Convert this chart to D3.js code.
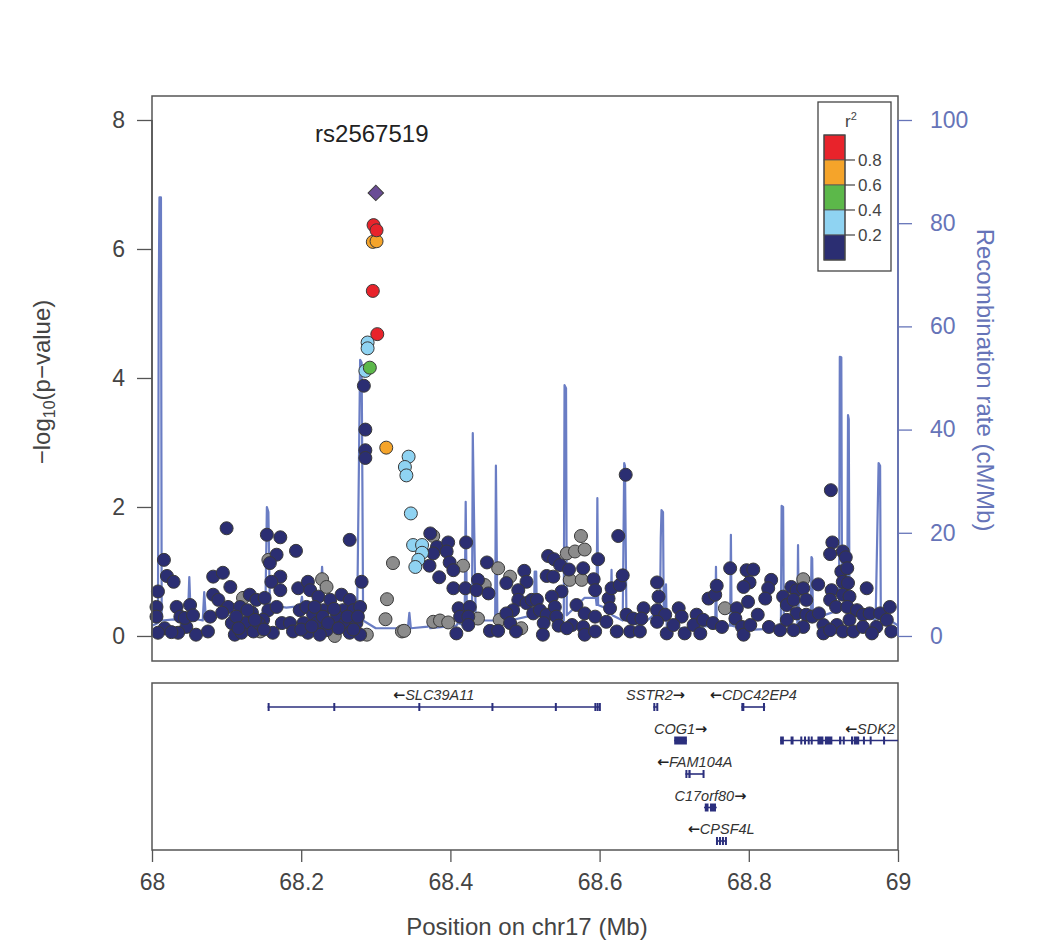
<!DOCTYPE html>
<html><head><meta charset="utf-8">
<script src="https://cdn.jsdelivr.net/npm/d3@7/dist/d3.min.js"></script>
<style>
body{margin:0;background:#fff;}
text{font-family:"Liberation Sans",Arial,Helvetica,sans-serif;}
</style></head>
<body><svg id="chart" width="1050" height="946"></svg>
<script>
// ---------------- DATA ----------------
const xTicks = [68, 68.2, 68.4, 68.6, 68.8, 69];
const yTicks = [0, 2, 4, 6, 8];
const rateTicks = [0, 20, 40, 60, 80, 100];
const r2Breaks = [0.2, 0.4, 0.6, 0.8];
const r2Colors = ["#2b2e72", "#8fd3f2", "#5cb84a", "#f5a42a", "#e8232b"];
const leadSnp = {name: "rs2567519", pos: 68.300, logp: 6.87};

// SNPs with r2 missing (gray)
const snpsNoLD = [[68.122,0.59],[68.156,1.18],[68.228,0.88],[68.234,0.76],[68.245,0.0],[68.145,0.07],[68.288,0.02],
 [68.323,1.13],[68.315,0.57],[68.313,0.26],[68.335,0.07],[68.338,0.08],[68.377,1.55],[68.417,1.09],[68.446,0.79],
 [68.464,1.05],[68.437,0.27],[68.377,0.22],[68.386,0.24],[68.397,0.21],[68.466,0.25],[68.480,0.92],[68.495,0.12],
 [68.556,1.28],[68.567,1.31],[68.575,1.55],[68.580,1.34],[68.560,0.87],[68.576,0.87],[68.768,0.43],[68.873,0.88]];
// r2 < 0.2 (navy)
const snpsR2_0 = [
 [68.100,1.67],[68.016,1.18],[68.020,0.93],[68.029,0.84],[68.008,0.69],[68.006,0.45],[68.006,0.30],[68.017,0.12],
 [68.008,0.05],[68.033,0.45],[68.038,0.30],[68.051,0.48],[68.046,0.14],[68.035,0.05],[68.059,0.02],[68.075,0.07],
 [68.078,0.30],[68.082,0.92],[68.095,0.98],[68.082,0.64],[68.089,0.56],[68.105,0.76],[68.102,0.45],[68.094,0.36],
 [68.107,0.20],[68.111,0.02],[68.118,0.45],[68.131,0.64],[68.140,0.56],[68.134,0.36],[68.125,0.20],[68.120,0.05],
 [68.136,0.07],[68.151,0.59],[68.156,0.40],[68.149,0.25],[68.154,1.57],[68.172,1.53],[68.167,1.26],[68.158,1.13],
 [68.172,0.92],[68.160,0.84],[68.172,0.71],[68.167,0.45],[68.174,0.20],[68.162,0.05],[68.193,1.32],[68.185,0.20],
 [68.189,0.07],[68.196,0.74],[68.209,0.84],[68.212,0.71],[68.223,0.61],[68.198,0.40],[68.207,0.45],[68.216,0.33],
 [68.203,0.20],[68.221,0.20],[68.230,0.40],[68.239,0.56],[68.234,0.09],[68.209,0.05],[68.225,0.02],[68.254,0.64],
 [68.265,0.56],[68.265,1.49],[68.256,0.40],[68.248,0.30],[68.270,0.40],[68.279,0.45],[68.281,0.84],[68.259,0.20],
 [68.274,0.20],[68.265,0.05],[68.279,0.02],[68.026,0.06],[68.044,0.28],[68.055,0.32],[68.113,0.30],[68.128,0.40],
 [68.143,0.20],[68.138,0.25],[68.150,0.10],[68.116,0.12],[68.200,0.10],[68.214,0.15],[68.218,0.45],[68.229,0.30],
 [68.236,0.20],[68.244,0.42],[68.250,0.12],[68.262,0.30],[68.270,0.10],[68.276,0.30],
 [68.284,3.88],[68.286,3.20],[68.286,2.88],[68.286,2.76],[68.635,2.50],[68.910,2.26],
 [68.373,1.59],[68.382,1.38],[68.397,1.45],[68.395,1.31],[68.377,1.28],[68.372,1.09],[68.385,0.91],[68.399,1.14],
 [68.404,1.02],[68.421,1.45],[68.404,0.74],[68.420,0.74],[68.437,0.87],[68.435,0.71],[68.451,0.66],[68.449,1.14],
 [68.411,0.43],[68.426,0.45],[68.413,0.30],[68.424,0.30],[68.408,0.04],[68.424,0.17],[68.453,0.08],[68.464,0.08],
 [68.475,0.82],[68.499,1.01],[68.502,0.84],[68.491,0.71],[68.491,0.56],[68.502,0.51],[68.484,0.40],[68.475,0.35],
 [68.480,0.20],[68.488,0.07],[68.509,0.56],[68.516,0.56],[68.511,0.35],[68.520,0.40],[68.529,0.33],[68.525,0.20],
 [68.524,0.02],[68.531,1.24],[68.539,1.19],[68.547,1.10],[68.529,0.93],[68.538,0.92],[68.549,0.69],[68.536,0.61],
 [68.540,0.45],[68.542,0.30],[68.545,0.16],[68.559,1.03],[68.578,1.05],[68.592,0.88],[68.594,0.71],[68.598,1.19],
 [68.569,0.48],[68.580,0.35],[68.594,0.30],[68.563,0.17],[68.578,0.14],[68.556,0.12],[68.580,0.02],[68.594,0.07],
 [68.612,0.58],[68.616,0.74],[68.614,0.43],[68.609,0.22],[68.623,0.07],[68.627,0.79],[68.631,0.94],[68.625,1.55],
 [68.636,0.33],[68.645,0.27],[68.641,0.07],[68.659,0.43],[68.656,0.27],[68.654,0.07],
 [68.677,0.83],[68.679,0.61],[68.677,0.40],[68.688,0.33],[68.677,0.22],[68.690,0.04],[68.706,0.43],[68.710,0.30],
 [68.699,0.17],[68.714,0.04],[68.730,0.33],[68.726,0.17],[68.735,0.04],[68.739,0.25],[68.746,0.58],[68.755,0.64],
 [68.757,0.78],[68.752,0.20],[68.764,0.14],[68.775,1.05],[68.784,0.43],[68.782,0.27],[68.791,0.14],[68.793,0.02],
 [68.797,1.02],[68.806,1.03],[68.801,0.83],[68.793,0.76],[68.799,0.53],[68.812,0.33],[68.802,0.17],[68.827,0.14],
 [68.830,0.87],[68.826,0.74],[68.822,0.58],[68.842,0.09],[68.846,0.61],[68.851,0.48],[68.857,0.76],[68.864,0.71],
 [68.873,0.74],[68.860,0.56],[68.877,0.56],[68.864,0.35],[68.851,0.25],[68.877,0.33],[68.873,0.14],[68.860,0.09],
 [68.885,0.30],[68.893,0.80],[68.894,0.35],[68.900,0.17],[68.900,0.04],[68.912,1.45],[68.909,1.27],[68.926,1.31],
 [68.930,1.22],[68.924,1.00],[68.932,1.05],[68.926,0.84],[68.933,0.82],[68.911,0.71],[68.909,0.56],[68.926,0.64],
 [68.935,0.61],[68.917,0.45],[68.932,0.45],[68.945,0.40],[68.958,0.74],[68.953,0.33],[68.962,0.35],[68.935,0.25],
 [68.918,0.17],[68.909,0.09],[68.926,0.07],[68.940,0.07],[68.953,0.14],[68.971,0.14],[68.976,0.35],[68.989,0.45],
 [68.985,0.25],[68.991,0.07],[68.965,0.04]];
// 0.2 <= r2 < 0.4 (light blue)
const snpsR2_1 = [[68.289,4.55],[68.289,4.46],[68.286,4.11],[68.344,2.78],[68.339,2.62],[68.341,2.49],[68.347,1.90],
 [68.350,1.41],[68.362,1.41],[68.362,1.29],[68.357,1.18],[68.353,1.07]];
// 0.4 <= r2 < 0.6 (green)
const snpsR2_2 = [[68.292,4.16]];
// 0.6 <= r2 < 0.8 (orange)
const snpsR2_3 = [[68.296,6.11],[68.301,6.12],[68.314,2.92]];
// r2 >= 0.8 (red)
const snpsR2_4 = [[68.297,6.37],[68.301,6.29],[68.296,5.35],[68.302,4.68]];

// Recombination rate (cM/Mb)
const recombRate = [
 [68.000,2.0],[68.008,2.5],[68.009,65],[68.010,85],[68.012,85],[68.013,3],[68.030,3.2],[68.048,3.0],[68.050,11.4],
 [68.052,3.5],[68.068,3.0],[68.070,8.5],[68.072,4.0],[68.080,4.2],[68.100,4.0],[68.140,3.5],[68.152,5],[68.154,25],
 [68.156,24],[68.158,6],[68.180,5.5],[68.199,5.8],[68.201,7.6],[68.203,5],[68.225,5.0],[68.228,13.4],[68.230,8],
 [68.240,4],[68.275,3.5],[68.279,53.5],[68.281,53],[68.282,30],[68.283,3],[68.300,1.5],[68.343,1.5],[68.345,4.5],
 [68.347,1.5],[68.370,1.8],[68.371,2.7],[68.373,1.5],[68.408,2.0],[68.410,2.5],[68.419,2.0],[68.4205,26],[68.422,5],
 [68.429,5],[68.430,39.3],[68.432,20],[68.434,3],[68.455,3],[68.460,3],[68.461,33],[68.463,3],[68.480,3],[68.510,4],
 [68.512,4],[68.513,12.5],[68.515,12.5],[68.516,4],[68.540,3],[68.552,3],[68.553,48.6],[68.555,48],[68.556,4],
 [68.580,7.4],[68.595,7.4],[68.596,6],[68.597,26.7],[68.598,6],[68.615,5],[68.616,12.8],[68.617,4],[68.631,3],
 [68.633,33.5],[68.634,33],[68.636,3],[68.655,2],[68.681,5],[68.682,19],[68.683,24.4],[68.685,24],[68.686,4],
 [68.689,10],[68.690,2],[68.705,1.5],[68.755,2],[68.756,13.4],[68.757,2],[68.775,2],[68.776,19.6],[68.777,2],
 [68.800,1.2],[68.843,1.5],[68.844,25.2],[68.846,25],[68.847,2],[68.865,2],[68.866,17.6],[68.867,2],[68.883,3],
 [68.884,15.3],[68.885,15],[68.886,3],[68.900,4],[68.921,5],[68.922,54.1],[68.924,54],[68.925,8],[68.932,6],
 [68.933,42.8],[68.934,42],[68.935,5],[68.950,5],[68.970,3],[68.974,33.5],[68.976,33],[68.977,3],[68.990,3],[69.000,2]];

// Genes: name, start, end, strand, row, exons
const geneNames = ["SLC39A11","SSTR2","CDC42EP4","COG1","SDK2","FAM104A","C17orf80","CPSF4L"];
const geneStart = [68.155, 68.672, 68.790, 68.700, 68.842, 68.715, 68.740, 68.756];
const geneEnd   = [68.600, 68.678, 68.822, 68.717, 69.250, 68.740, 68.757, 68.770];
const geneStrand = ["-","+","-","+","-","-","+","-"];
const geneRow = [0,0,0,1,1,2,3,4];
const geneExons = [
 [[68.155,68.157],[68.243,68.245],[68.357,68.359],[68.455,68.457],[68.540,68.542],[68.593,68.595],[68.596,68.598],[68.599,68.601]],
 [[68.672,68.674],[68.676,68.678]],
 [[68.790,68.794],[68.819,68.821]],
 [[68.700,68.717]],
 [[68.842,68.847],[68.856,68.860],[68.869,68.871],[68.874,68.876],[68.879,68.881],[68.883,68.885],[68.892,68.900],
  [68.902,68.912],[68.921,68.924],[68.926,68.928],[68.937,68.940],[68.941,68.948],[68.953,68.955],[68.962,68.964],[68.980,68.982]],
 [[68.715,68.717],[68.719,68.722],[68.738,68.740]],
 [[68.741,68.746],[68.748,68.756]],
 [[68.756,68.758],[68.760,68.762],[68.764,68.766],[68.768,68.770]]
];

// ---------------- DRAW ----------------
const svg = d3.select("#chart");
const L = 152, R = 898, T = 96, B = 661;
const gT = 683, gB = 850;
const x = d3.scaleLinear().domain([68, 69]).range([L, R]);
const y = d3.scaleLinear().domain([-0.388, 8.372]).range([B, T]);
const yR = d3.scaleLinear().domain([-0.388*12.5, 8.372*12.5]).range([B, T]);
const axisGray = "#555";
const recColor = "#6a7dc4";
const rightColor = "#6674b8";
const fontMain = 23;

svg.append("defs").append("clipPath").attr("id","gclip")
  .append("rect").attr("x",L).attr("y",gT).attr("width",R-L).attr("height",gB-gT);

// recombination line
svg.append("path").datum(recombRate)
  .attr("fill","none").attr("stroke",recColor).attr("stroke-width",2.2).attr("stroke-linejoin","round")
  .attr("d", d3.line().x(d=>x(d[0])).y(d=>yR(d[1])));

// points
function drawPts(data, fill){
  svg.append("g").selectAll("circle").data(data).join("circle")
    .attr("cx",d=>x(d[0])).attr("cy",d=>y(d[1])).attr("r",6.5)
    .attr("fill",fill).attr("stroke","#3a3a3a").attr("stroke-width",1);
}
drawPts(snpsNoLD, "#8c8c8c");
drawPts(snpsR2_0, r2Colors[0]);
drawPts(snpsR2_1, r2Colors[1]);
drawPts(snpsR2_2, r2Colors[2]);
drawPts(snpsR2_3, r2Colors[3]);
drawPts(snpsR2_4, r2Colors[4]);
svg.append("path")
  .attr("d", d3.symbol().type(d3.symbolSquare).size(120)())
  .attr("transform",`translate(${x(leadSnp.pos)},${y(leadSnp.logp)}) rotate(45)`)
  .attr("fill","#6a4c96").attr("stroke","#3a3a3a").attr("stroke-width",1);

// lead SNP label
svg.append("text").attr("x",x(leadSnp.pos)-4).attr("y",142).attr("text-anchor","middle")
  .attr("font-size",24).attr("fill","#222").text(leadSnp.name);

// frames
svg.append("rect").attr("x",L).attr("y",T).attr("width",R-L).attr("height",B-T)
  .attr("fill","none").attr("stroke",axisGray).attr("stroke-width",1.5);
svg.append("rect").attr("x",L).attr("y",gT).attr("width",R-L).attr("height",gB-gT)
  .attr("fill","none").attr("stroke",axisGray).attr("stroke-width",1.5);

// left axis
const gl = svg.append("g").attr("transform",`translate(${L},0)`)
  .call(d3.axisLeft(y).tickValues(yTicks).tickSize(15).tickPadding(12).tickFormat(d3.format("d")));
gl.select(".domain").remove();
gl.selectAll("line").attr("stroke",axisGray).attr("stroke-width",1.3);
gl.selectAll("text").attr("font-size",fontMain).attr("fill","#444").attr("font-family","Liberation Sans, Arial, sans-serif");
svg.append("line").attr("x1",L).attr("x2",L).attr("y1",y(0)).attr("y2",y(8)).attr("stroke",axisGray).attr("stroke-width",1.5);

// right axis
const gr = svg.append("g").attr("transform",`translate(${R},0)`)
  .call(d3.axisRight(yR).tickValues(rateTicks).tickSize(14).tickPadding(18));
gr.select(".domain").remove();
gr.selectAll("line").attr("stroke",rightColor).attr("stroke-width",1.3);
gr.selectAll("text").attr("font-size",fontMain).attr("fill",rightColor).attr("font-family","Liberation Sans, Arial, sans-serif");
svg.append("line").attr("x1",R).attr("x2",R).attr("y1",yR(0)).attr("y2",yR(100)).attr("stroke",rightColor).attr("stroke-width",1.8);

// bottom axis
const gb = svg.append("g").attr("transform",`translate(0,${gB})`)
  .call(d3.axisBottom(x).tickValues(xTicks).tickSize(12).tickPadding(12).tickFormat(d=>d3.format("~g")(d)));
gb.select(".domain").remove();
gb.selectAll("line").attr("stroke",axisGray).attr("stroke-width",1.3);
gb.selectAll("text").attr("font-size",fontMain).attr("fill","#444").attr("font-family","Liberation Sans, Arial, sans-serif");

// axis titles
const yl = svg.append("text").attr("transform","translate(50,382) rotate(-90)").attr("text-anchor","middle")
  .attr("font-size",24).attr("fill","#444");
yl.append("tspan").text("\u2212log");
yl.append("tspan").attr("font-size",16).attr("dy",5).text("10");
yl.append("tspan").attr("dy",-5).text("(p\u2212value)");
svg.append("text").attr("transform","translate(977,380) rotate(90)").attr("text-anchor","middle")
  .attr("font-size",24).attr("fill",rightColor).text("Recombination rate (cM/Mb)");
svg.append("text").attr("x",527).attr("y",935).attr("text-anchor","middle")
  .attr("font-size",24).attr("fill","#444").text("Position on chr17 (Mb)");

// legend
const lg = svg.append("g");
lg.append("rect").attr("x",818).attr("y",102).attr("width",73).attr("height",169)
  .attr("fill","#fff").attr("stroke","#444").attr("stroke-width",1.3);
const lt = lg.append("text").attr("x",851).attr("y",127).attr("text-anchor","middle").attr("font-size",17).attr("fill","#444");
lt.append("tspan").text("r");
lt.append("tspan").attr("font-size",11).attr("dy",-7).text("2");
const colorsTopDown = r2Colors.slice().reverse();
colorsTopDown.forEach((c,i)=>{
  lg.append("rect").attr("x",824).attr("y",135+i*25).attr("width",21).attr("height",25)
    .attr("fill",c).attr("stroke","#555").attr("stroke-width",0.8);
});
lg.append("rect").attr("x",824).attr("y",135).attr("width",21).attr("height",125)
  .attr("fill","none").attr("stroke","#444").attr("stroke-width",1.2);
r2Breaks.slice().reverse().forEach((b,i)=>{
  const yy = 160+i*25;
  lg.append("line").attr("x1",845).attr("x2",855).attr("y1",yy).attr("y2",yy).attr("stroke","#444").attr("stroke-width",1.2);
  lg.append("text").attr("x",858).attr("y",yy+6).attr("font-size",17).attr("fill","#444").text(b.toFixed(1));
});

// genes
const rowY = [707, 740.5, 774, 807.5, 841];
const geneColor = "#2b2f7d";
const gg = svg.append("g");
const gClip = gg.append("g").attr("clip-path","url(#gclip)");
geneNames.forEach((name,i)=>{
  const ry = rowY[geneRow[i]];
  gClip.append("line").attr("x1",x(geneStart[i])).attr("x2",x(geneEnd[i])).attr("y1",ry).attr("y2",ry)
    .attr("stroke",geneColor).attr("stroke-width",1.6);
  geneExons[i].forEach(e=>{
    const w = Math.max(2, x(e[1])-x(e[0]));
    gClip.append("rect").attr("x",x(e[0])).attr("y",ry-4).attr("width",w).attr("height",8).attr("fill",geneColor);
  });
  const t = gg.append("text").attr("y",ry-7).attr("text-anchor","middle").attr("font-size",14.5)
    .attr("font-style","italic").attr("fill","#333");
  const arrow = (txt)=> t.append("tspan").attr("font-family","DejaVu Sans").attr("font-style","normal")
    .attr("font-weight","bold").attr("fill","#222").text(txt);
  if (geneStrand[i]==="-") { arrow("\u2190"); t.append("tspan").text(name); }
  else { t.append("tspan").text(name); arrow("\u2192"); }
  const tw = t.node().getComputedTextLength();
  let cx = x((geneStart[i]+geneEnd[i])/2);
  cx = Math.min(cx, R - 3 - tw/2);
  cx = Math.max(cx, L + 3 + tw/2);
  t.attr("x",cx);
});
</script></body></html>
